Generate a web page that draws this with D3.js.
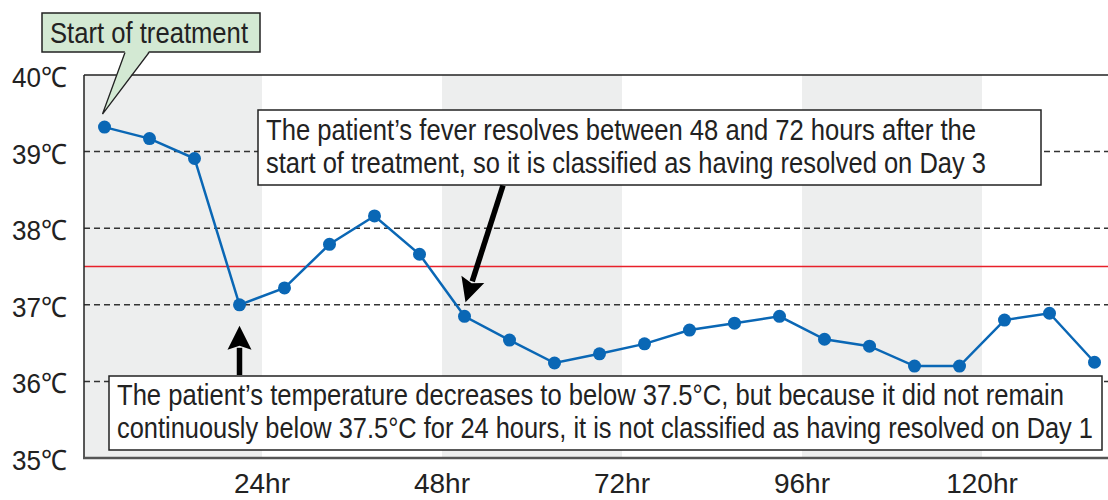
<!DOCTYPE html>
<html lang="en">
<head>
    <meta charset="UTF-8">
    <title>Fever resolution chart</title>
    <script src="https://cdn.jsdelivr.net/npm/d3@7/dist/d3.min.js"></script>
    <style>
        body { margin: 0; background: #fff; }
        svg text {
            font-family: "Liberation Sans", Arial, sans-serif;
            fill: #222;
        }
    </style>
</head>
<body>
<script>
    // 画布大小
    const width = 1108;
    const height = 500;
    const plotLeft = 84;

    // data
    const hours = [3, 9, 15, 21, 27, 33, 39, 45, 51, 57, 63, 69, 75, 81, 87, 93, 99, 105, 111, 117, 123, 129, 135];
    const temps = [39.32, 39.17, 38.91, 37.0, 37.22, 37.79, 38.16, 37.66, 36.85, 36.54, 36.24, 36.36,
                   36.49, 36.67, 36.76, 36.85, 36.55, 36.46, 36.2, 36.2, 36.8, 36.89, 36.25];
    const yTicks = [35, 36, 37, 38, 39, 40];
    const gridTemps = [36, 37, 38, 39];
    const xTicks = [24, 48, 72, 96, 120];
    const xTickLabels = ['24hr', '48hr', '72hr', '96hr', '120hr'];
    const shadedBands = [[0, 24], [48, 72], [96, 120]];
    const thresholdTemp = 37.5;

    const note1 = ['Start of treatment'];
    const note2 = ['The patient\u2019s fever resolves between 48 and 72 hours after the',
                   'start of treatment, so it is classified as having resolved on Day 3'];
    const note3 = ['The patient\u2019s temperature decreases to below 37.5\u00b0C, but because it did not remain',
                   'continuously below 37.5\u00b0C for 24 hours, it is not classified as having resolved on Day 1'];

    const x = d3.scaleLinear().domain([0, 136]).range([82, 1102]);
    const y = d3.scaleLinear().domain([35, 40]).range([458, 75]);

    const svg = d3.select('body')
        .append('svg')
        .attr('width', width)
        .attr('height', height);

    // 背景条纹
    svg.append('g')
        .selectAll('rect')
        .data(shadedBands)
        .enter()
        .append('rect')
        .attr('x', d => Math.max(plotLeft, x(d[0])))
        .attr('y', y(40))
        .attr('width', d => x(d[1]) - Math.max(plotLeft, x(d[0])))
        .attr('height', y(35) - y(40))
        .attr('fill', '#edeeee');

    // 虚线网格
    svg.append('g')
        .selectAll('line')
        .data(gridTemps)
        .enter()
        .append('line')
        .attr('x1', plotLeft)
        .attr('x2', width)
        .attr('y1', d => y(d))
        .attr('y2', d => y(d))
        .attr('stroke', '#333')
        .attr('stroke-width', 1.5)
        .attr('stroke-dasharray', '6,4');

    // 37.5 线
    svg.append('line')
        .attr('x1', plotLeft)
        .attr('x2', width)
        .attr('y1', y(thresholdTemp))
        .attr('y2', y(thresholdTemp))
        .attr('stroke', '#e8202a')
        .attr('stroke-width', 1.5);

    // 边框
    svg.append('line')
        .attr('x1', plotLeft).attr('x2', width)
        .attr('y1', y(40)).attr('y2', y(40))
        .attr('stroke', '#222').attr('stroke-width', 1.5);
    svg.append('line')
        .attr('x1', plotLeft).attr('x2', plotLeft)
        .attr('y1', y(40)).attr('y2', y(35))
        .attr('stroke', '#222').attr('stroke-width', 1.5);
    svg.append('line')
        .attr('x1', plotLeft - 1).attr('x2', width)
        .attr('y1', y(35)).attr('y2', y(35))
        .attr('stroke', '#555').attr('stroke-width', 2.5);

    // y 轴标签
    svg.append('g')
        .selectAll('text')
        .data(yTicks)
        .enter()
        .append('text')
        .attr('x', 67)
        .attr('y', d => y(d) + 12)
        .attr('text-anchor', 'end')
        .attr('textLength', 55)
        .attr('lengthAdjust', 'spacingAndGlyphs')
        .style('font-size', '28px')
        .text(d => d + '\u2103');

    // x 轴标签
    svg.append('g')
        .selectAll('text')
        .data(xTicks)
        .enter()
        .append('text')
        .attr('x', d => x(d))
        .attr('y', 493)
        .attr('text-anchor', 'middle')
        .style('font-size', '28px')
        .text((d, i) => xTickLabels[i]);

    // 折线
    const pts = hours.map((h, i) => [h, temps[i]]);
    svg.append('path')
        .datum(pts)
        .attr('fill', 'none')
        .attr('stroke', '#0a67b5')
        .attr('stroke-width', 2.5)
        .attr('d', d3.line().x(d => x(d[0])).y(d => y(d[1])));

    svg.append('g')
        .selectAll('circle')
        .data(pts)
        .enter()
        .append('circle')
        .attr('cx', d => x(d[0]))
        .attr('cy', d => y(d[1]))
        .attr('r', 6.5)
        .attr('fill', '#0a67b5');

    // 注释框
    function noteBox(lines, box, baselines, lengths, fill) {
        const g = svg.append('g');
        g.append('rect')
            .attr('x', box[0]).attr('y', box[1])
            .attr('width', box[2]).attr('height', box[3])
            .attr('fill', fill)
            .attr('stroke', '#222')
            .attr('stroke-width', 1.5);
        lines.forEach((t, i) => {
            g.append('text')
                .attr('x', box[0] + 8)
                .attr('y', baselines[i])
                .attr('textLength', lengths[i])
                .attr('lengthAdjust', 'spacingAndGlyphs')
                .style('font-size', '29px')
                .text(t);
        });
        return g;
    }

    // Start of treatment callout
    const p0 = [x(hours[0]), y(temps[0])];
    noteBox(note1, [42, 13, 218, 39], [43], [198], '#d3e9d3');
    svg.append('polygon')
        .attr('points', [[125, 51], [p0[0] - 2, p0[1] - 13], [149, 51]].join(' '))
        .attr('fill', '#d3e9d3');
    svg.append('polyline')
        .attr('points', [[125, 52.5], [p0[0] - 2, p0[1] - 13], [149, 52.5]].join(' '))
        .attr('fill', 'none')
        .attr('stroke', '#222')
        .attr('stroke-width', 1.3);

    noteBox(note2, [258, 110, 783, 75], [140, 173], [710, 720], '#fff');
    noteBox(note3, [109, 376, 993, 74], [405, 438], [947, 976], '#fff');

    // 箭头
    function arrow(from, tip) {
        const dx = tip[0] - from[0];
        const dy = tip[1] - from[1];
        const len = Math.sqrt(dx * dx + dy * dy);
        const ux = dx / len, uy = dy / len;
        const headLen = 24, headW = 12;
        const bx = tip[0] - ux * headLen, by = tip[1] - uy * headLen;
        svg.append('line')
            .attr('x1', from[0]).attr('y1', from[1])
            .attr('x2', bx + ux * 2).attr('y2', by + uy * 2)
            .attr('stroke', '#000')
            .attr('stroke-width', 5.5);
        svg.append('polygon')
            .attr('points', [
                [tip[0], tip[1]],
                [bx - uy * headW, by + ux * headW],
                [bx + ux * 4, by + uy * 4],
                [bx + uy * headW, by - ux * headW]
            ].join(' '))
            .attr('fill', '#000');
    }

    const p8 = [x(hours[8]), y(temps[8])];
    arrow([503, 185.5], [p8[0] + 1, p8[1] - 14]);
    const p3 = [x(hours[3]), y(temps[3])];
    arrow([p3[0], 375], [p3[0], p3[1] + 21]);
</script>
</body>
</html>
